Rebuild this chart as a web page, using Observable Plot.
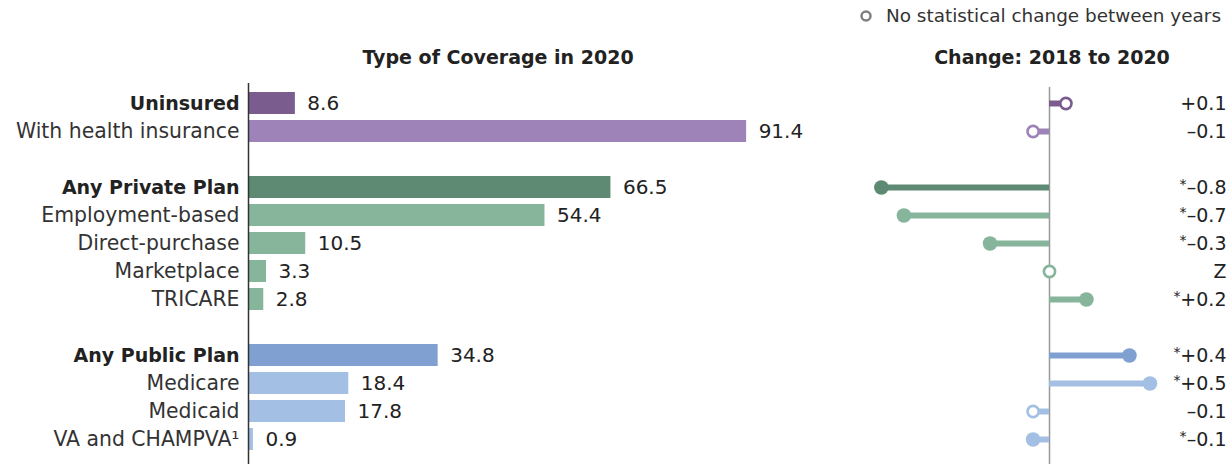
<!DOCTYPE html>
<html><head><meta charset="utf-8">
<script src="https://cdn.jsdelivr.net/npm/d3@7"></script>
<script src="https://cdn.jsdelivr.net/npm/@observablehq/plot@0.6"></script>
<style>
body{margin:0;background:#fff;}
#wrap{position:relative;width:1230px;height:464px;overflow:hidden;font-family:"DejaVu Sans",sans-serif;color:#222}
.title{position:absolute;top:44px;font-weight:700;font-size:19px;transform:translateX(-50%);white-space:nowrap;line-height:26px}
#left,#right{position:absolute;top:0}
#left{left:0}
#right{left:820px}
#legend{position:absolute;left:858px;top:3px;font-size:18.4px;display:flex;align-items:center;color:#333;line-height:26px;white-space:nowrap}
</style></head>
<body><div id="wrap">
<div id="legend"><svg width="16" height="16"><circle cx="8" cy="8" r="4.5" fill="white" stroke="#808080" stroke-width="2.5"/></svg><span style="margin-left:12px">No statistical change between years</span></div>
<div class="title" style="left:498px">Type of Coverage in 2020</div>
<div class="title" style="left:1052px">Change: 2018 to 2020</div>
<div id="left"></div><div id="right"></div>
</div>
<script>
const categories = ["Uninsured", "With health insurance", "Any Private Plan", "Employment-based", "Direct-purchase", "Marketplace", "TRICARE", "Any Public Plan", "Medicare", "Medicaid", "VA and CHAMPVA¹"];
const groups = ["coverage", "coverage", "private", "private", "private", "private", "private", "public", "public", "public", "public"];
const headers = [true, false, true, false, false, false, false, true, false, false, false];
const coverage2020 = [8.6, 91.4, 66.5, 54.4, 10.5, 3.3, 2.8, 34.8, 18.4, 17.8, 0.9];
const change = [0.08, -0.08, -0.82, -0.71, -0.29, 0, 0.18, 0.39, 0.49, -0.08, -0.08];
const changeLabels = ["+0.1", "–0.1", "–0.8", "–0.7", "–0.3", "Z", "+0.2", "+0.4", "+0.5", "–0.1", "–0.1"];
const significant = [false, false, true, true, true, false, true, true, true, false, true];
const palette = ["#7b5c8f", "#9e83b9", "#5e8a73", "#86b59c", "#86b59c", "#86b59c", "#86b59c", "#7fa0d0", "#a3c0e4", "#a3c0e4", "#a3c0e4"];

const data = categories.map((c, i) => ({
  category: c, group: groups[i], header: headers[i], value: coverage2020[i],
  change: change[i], label: changeLabels[i], sig: significant[i]
}));

// row domain with a blank row between groups
const rowDomain = [];
data.forEach((d, i) => {
  if (i > 0 && d.group !== data[i - 1].group) rowDomain.push("gap-" + i);
  rowDomain.push(d.category);
});

const font = '"DejaVu Sans", sans-serif';
const yOpts = () => ({type: "band", domain: rowDomain, range: [85, 458.3], padding: 0.2, axis: null});
const colorOpts = () => ({domain: categories, range: palette});

const left = Plot.plot({
  width: 820, height: 464,
  marginTop: 83, marginBottom: 0, marginLeft: 248, marginRight: 0,
  x: {domain: [0, 100], range: [248, 793], axis: null},
  y: yOpts(),
  color: colorOpts(),
  style: {fontFamily: font, fontSize: "20px", background: "transparent", overflow: "visible"},
  marks: [
    Plot.barX(data, {x: "value", y: "category", fill: "category"}),
    Plot.ruleX([0], {stroke: "#333", strokeWidth: 1.5}),
    Plot.text(data.filter(d => d.header), {x: 0, y: "category", text: "category", textAnchor: "end", dx: -9, fontWeight: "bold", fontSize: 19, fill: "#222"}),
    Plot.text(data.filter(d => !d.header), {x: 0, y: "category", text: "category", textAnchor: "end", dx: -9, fontSize: 20.4, fill: "#333"}),
    Plot.text(data, {x: "value", y: "category", text: d => d.value.toFixed(1), textAnchor: "start", dx: 12, fontSize: 20, fill: "#222"})
  ]
});
document.getElementById("left").append(left);

const right = Plot.plot({
  width: 410, height: 464,
  marginTop: 87, marginBottom: 0, marginLeft: 0, marginRight: 4,
  x: {domain: [-1, 0.8], range: [24, 393], axis: null},
  y: yOpts(),
  color: colorOpts(),
  style: {fontFamily: font, fontSize: "19px", background: "transparent", overflow: "visible"},
  marks: [
    Plot.ruleX([0], {stroke: "#999", strokeWidth: 1.5}),
    Plot.ruleY(data, {y: "category", x1: 0, x2: "change", stroke: "category", strokeWidth: 6}),
    Plot.dot(data.filter(d => d.sig), {x: "change", y: "category", fill: "category", r: 7.3}),
    Plot.dot(data.filter(d => !d.sig), {x: "change", y: "category", stroke: "category", fill: "white", r: 5.6, strokeWidth: 2.6}),
    Plot.text(data, {y: "category", text: "label", frameAnchor: "right", textAnchor: "end", fontSize: 19, fill: "#222"}),
    Plot.text(data.filter(d => d.sig && d.change > 0), {y: "category", text: () => "*", frameAnchor: "right", textAnchor: "end", dx: -46, dy: -3, fontSize: 14, fill: "#222"}),
    Plot.text(data.filter(d => d.sig && d.change < 0), {y: "category", text: () => "*", frameAnchor: "right", textAnchor: "end", dx: -40, dy: -3, fontSize: 14, fill: "#222"})
  ]
});
document.getElementById("right").append(right);
</script>
</body></html>
